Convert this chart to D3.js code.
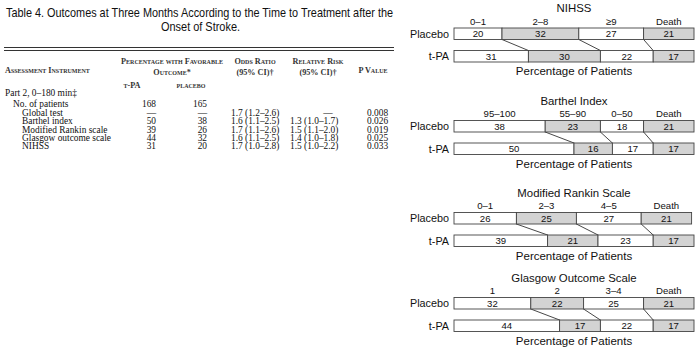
<!DOCTYPE html>
<html>
<head>
<meta charset="utf-8">
<script src="https://cdn.jsdelivr.net/npm/d3@7"></script>
<style>
  body { margin: 0; background: #fff; }
  svg { display: block; }
  .serif { font-family: "Liberation Serif", "Times New Roman", serif; fill: #111; }
  .sans { font-family: "Liberation Sans", Arial, Helvetica, sans-serif; fill: #111; }
  .sc { font-variant: small-caps; }
</style>
</head>
<body>
<svg id="chart" width="700" height="352"></svg>
<script>
// ---- chart data (percentage of patients) ----
var scaleNames = ['NIHSS', 'Barthel Index', 'Modified Rankin Scale', 'Glasgow Outcome Scale']
var scaleCategories = [
  ['0\u20131', '2\u20138', '\u22659', 'Death'],
  ['95\u2013100', '55\u201390', '0\u201350', 'Death'],
  ['0\u20131', '2\u20133', '4\u20135', 'Death'],
  ['1', '2', '3\u20134', 'Death']
]
var placeboValues = [
  [20, 32, 27, 21],
  [38, 23, 18, 21],
  [26, 25, 27, 21],
  [32, 22, 25, 21]
]
var tpaValues = [
  [31, 30, 22, 17],
  [50, 16, 17, 17],
  [39, 21, 23, 17],
  [44, 17, 22, 17]
]
var groupNames = ['Placebo', 't-PA']

// ---- table data ----
var rowLabels = ['Global test', 'Barthel index', 'Modified Rankin scale', 'Glasgow outcome scale', 'NIHSS']
var tpaFavorable = ['\u2014', '50', '39', '44', '31']
var placeboFavorable = ['\u2014', '38', '26', '32', '20']
var oddsRatios = ['1.7 (1.2\u20132.6)', '1.6 (1.1\u20132.5)', '1.7 (1.1\u20132.6)', '1.6 (1.1\u20132.5)', '1.7 (1.0\u20132.8)']
var relativeRisks = ['\u2014', '1.3 (1.0\u20131.7)', '1.5 (1.1\u20132.0)', '1.4 (1.0\u20131.8)', '1.5 (1.0\u20132.2)']
var pValues = ['0.008', '0.026', '0.019', '0.025', '0.033']
var patientCounts = ['168', '165']

var svg = d3.select('#chart')

// ================= TABLE =================
var tbl = svg.append('g')

tbl.append('text').attr('class', 'sans')
  .attr('x', 6).attr('y', 17)
  .attr('textLength', 387).attr('lengthAdjust', 'spacingAndGlyphs')
  .style('font-size', '12.4px')
  .text('Table 4. Outcomes at Three Months According to the Time to Treatment after the')
tbl.append('text').attr('class', 'sans')
  .attr('x', 161).attr('y', 31)
  .attr('textLength', 79).attr('lengthAdjust', 'spacingAndGlyphs')
  .style('font-size', '12.4px')
  .text('Onset of Stroke.')

// double rule
;[47.5, 50.5].forEach(y => {
  tbl.append('line')
    .attr('x1', 4).attr('x2', 394)
    .attr('y1', y).attr('y2', y)
    .attr('stroke', '#333').attr('stroke-width', 1)
})

var hdr = [
  {t: 'Assessment Instrument', x: 5, y: 73, a: 'start'},
  {t: 'Percentage with Favorable', x: 172, y: 64, a: 'middle'},
  {t: 'Outcome*', x: 172, y: 75, a: 'middle'},
  {t: 'Odds Ratio', x: 255, y: 64, a: 'middle'},
  {t: '(95% CI)\u2020', x: 255, y: 75, a: 'middle'},
  {t: 'Relative Risk', x: 318, y: 64, a: 'middle'},
  {t: '(95% CI)\u2020', x: 318, y: 75, a: 'middle'},
  {t: 'P Value', x: 373, y: 73, a: 'middle'},
  {t: 't-PA', x: 132, y: 88, a: 'middle'},
  {t: 'placebo', x: 191, y: 88, a: 'middle'}
]
tbl.selectAll('text.hdr')
  .data(hdr)
  .enter()
  .append('text')
    .attr('class', 'hdr serif sc')
    .attr('x', d => d.x)
    .attr('y', d => d.y)
    .attr('text-anchor', d => d.a)
    .style('font-size', '8.2px')
    .style('font-weight', 'bold')
    .style('fill', '#333')
    .text(d => d.t)

var fs = '9.4px'
tbl.append('text').attr('class', 'serif').attr('x', 5).attr('y', 96)
  .style('font-size', fs).text('Part 2, 0\u2013180 min\u2021')
tbl.append('text').attr('class', 'serif').attr('x', 13).attr('y', 107)
  .style('font-size', fs).text('No. of patients')
tbl.append('text').attr('class', 'serif').attr('x', 156).attr('y', 107)
  .attr('text-anchor', 'end').style('font-size', fs).text(patientCounts[0])
tbl.append('text').attr('class', 'serif').attr('x', 207).attr('y', 107)
  .attr('text-anchor', 'end').style('font-size', fs).text(patientCounts[1])

var rowY = d3.scaleLinear().domain([0, 4]).range([116, 149])

var cols = [
  {vals: rowLabels, x: 22, a: 'start'},
  {vals: tpaFavorable, x: 156, a: 'end'},
  {vals: placeboFavorable, x: 207, a: 'end'},
  {vals: oddsRatios, x: 231, a: 'start'},
  {vals: relativeRisks, x: 290, a: 'start'},
  {vals: pValues, x: 367, a: 'start'}
]
cols.forEach(c => {
  tbl.selectAll(null)
    .data(c.vals)
    .enter()
    .append('text')
      .attr('class', 'serif')
      .attr('x', d => (d == '\u2014' && c.x == 290) ? 328 : c.x)
      .attr('y', (d, i) => rowY(i))
      .attr('text-anchor', d => (d == '\u2014' && c.x == 290) ? 'middle' : c.a)
      .style('font-size', fs)
      .text(d => d)
})

// ================= STACKED BARS =================
var x = d3.scaleLinear().domain([0, 100]).range([454, 694])
var panelTops = [28, 120.5, 212.5, 297.5]
var barH = 11.5
var gap = 22.5

scaleNames.forEach((name, k) => {
  var top = panelTops[k]
  var g = svg.append('g')

  var rows = [placeboValues[k], tpaValues[k]].map((vals, r) => {
    var cum = 0
    return vals.map((v, i) => {
      var s = {x0: cum, x1: cum + v, v: v, i: i, r: r}
      cum += v
      return s
    })
  })

  // connectors between segment boundaries
  for (var b = 0; b < 3; b++) {
    g.append('line')
      .attr('x1', x(rows[0][b].x1)).attr('y1', top + barH)
      .attr('x2', x(rows[1][b].x1)).attr('y2', top + gap)
      .attr('stroke', '#333').attr('stroke-width', 0.9)
  }

  rows.forEach((segs, r) => {
    var yTop = top + r * gap
    g.selectAll(null)
      .data(segs)
      .enter()
      .append('rect')
        .attr('x', d => x(d.x0))
        .attr('y', yTop)
        .attr('width', d => x(d.x1) - x(d.x0))
        .attr('height', barH)
        .attr('fill', d => d.i % 2 ? '#d3d3d3' : '#fff')
        .attr('stroke', '#444')
        .attr('stroke-width', 0.9)

    g.selectAll(null)
      .data(segs)
      .enter()
      .append('text')
        .attr('class', 'sans')
        .attr('x', d => x((d.x0 + d.x1) / 2))
        .attr('y', yTop + barH / 2 + 3.5)
        .attr('text-anchor', 'middle')
        .style('font-size', '9.6px')
        .text(d => d.v)

    g.append('text')
      .attr('class', 'sans')
      .attr('x', 449)
      .attr('y', yTop + barH / 2 + 4)
      .attr('text-anchor', 'end')
      .style('font-size', '10.8px')
      .text(groupNames[r])
  })

  // category labels above placebo segments
  g.selectAll(null)
    .data(rows[0])
    .enter()
    .append('text')
      .attr('class', 'sans')
      .attr('x', d => x((d.x0 + d.x1) / 2))
      .attr('y', top - 3.5)
      .attr('text-anchor', 'middle')
      .style('font-size', '9.6px')
      .text((d, i) => scaleCategories[k][i])

  g.append('text')
    .attr('class', 'sans')
    .attr('x', x(50))
    .attr('y', top - 16)
    .attr('text-anchor', 'middle')
    .style('font-size', '11.4px')
    .text(name)

  g.append('text')
    .attr('class', 'sans')
    .attr('x', x(50))
    .attr('y', top + gap + barH + 13)
    .attr('text-anchor', 'middle')
    .style('font-size', '11.5px')
    .text('Percentage of Patients')
})
</script>
</body>
</html>
